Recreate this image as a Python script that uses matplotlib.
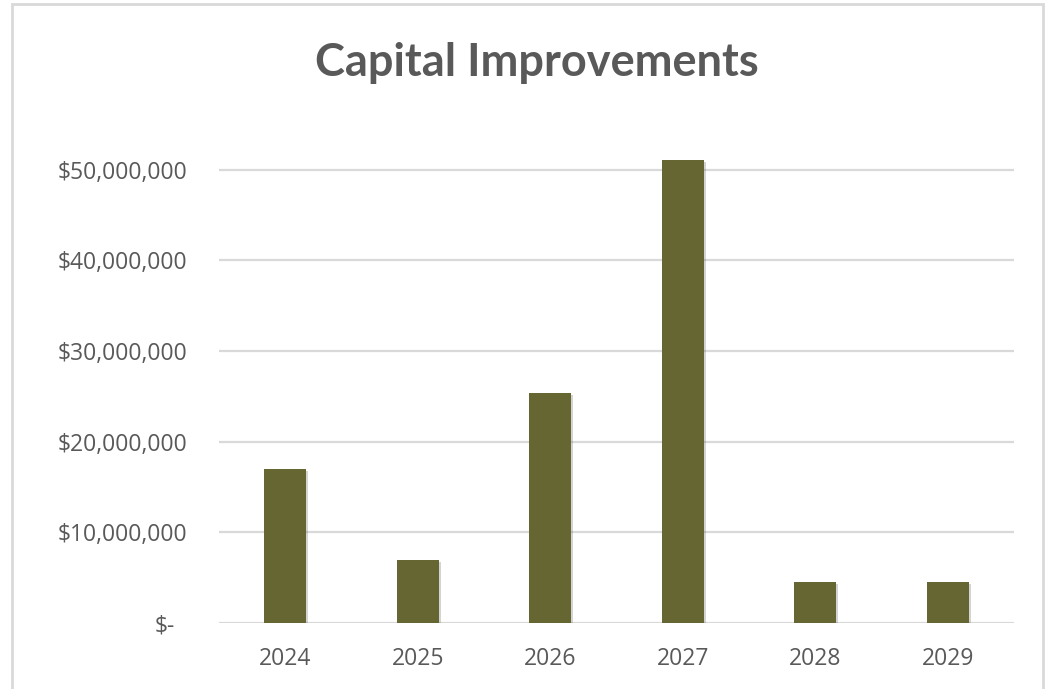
import matplotlib.pyplot as plt
import matplotlib.patheffects as pe
from matplotlib.patches import Rectangle
from matplotlib.transforms import ScaledTranslation

years = ['2024', '2025', '2026', '2027', '2028', '2029']
amounts = [16950000, 7000000, 25400000, 51100000, 4500000, 4500000]
y_ticks = [0, 10000000, 20000000, 30000000, 40000000, 50000000]


def money(v):
    if v == 0:
        return '$-'
    return '${:,.0f}'.format(v)


fig = plt.figure(figsize=(10.53, 6.89), dpi=100)
fig.patch.set_facecolor('white')

# light border round the chart area
fig.patches.append(Rectangle((12 / 1053, -0.01), 1031 / 1053, 1 - 4 / 689 + 0.01,
                             transform=fig.transFigure, fill=False,
                             edgecolor='#d9d9d9', linewidth=2))

ax = fig.add_axes([219 / 1053, 1 - 623 / 689, 795 / 1053, (623 - 151.4) / 689])

x = list(range(len(years)))
bars = ax.bar(x, amounts, width=0.315, color='#666633', zorder=3)
for b in bars:
    b.set_path_effects([pe.SimplePatchShadow(offset=(1.5, -1.5), alpha=0.25,
                                             shadow_rgbFace='#555555'),
                        pe.Normal()])

ax.set_xlim(-0.5, 5.5)
ax.set_ylim(0, 52000000)
ax.set_yticks(y_ticks)
ax.set_yticklabels([money(v) for v in y_ticks])
ax.set_xticks(x)
ax.set_xticklabels(years)

ax.grid(axis='y', color='#d9d9d9', linewidth=1.6, zorder=0)
for s in ax.spines.values():
    s.set_visible(False)
ax.tick_params(axis='both', length=0, colors='#595959')
ax.tick_params(axis='y', pad=23, labelsize=16.5)
ax.tick_params(axis='x', pad=17, labelsize=16.5)
for lbl in ax.get_yticklabels() + ax.get_xticklabels():
    lbl.set_fontfamily('Open Sans')

# accounting style: the dash sits left of the digit column
zero = ax.get_yticklabels()[0]
zero.set_transform(zero.get_transform() + ScaledTranslation(-12 / 100, 0, fig.dpi_scale_trans))

fig.text(0.510, 1 - 63 / 689, 'Capital Improvements', ha='center', va='center',
         fontsize=32.5, fontweight='bold', color='#595959', family='Lato')

fig.savefig('out.png', dpi=100)
